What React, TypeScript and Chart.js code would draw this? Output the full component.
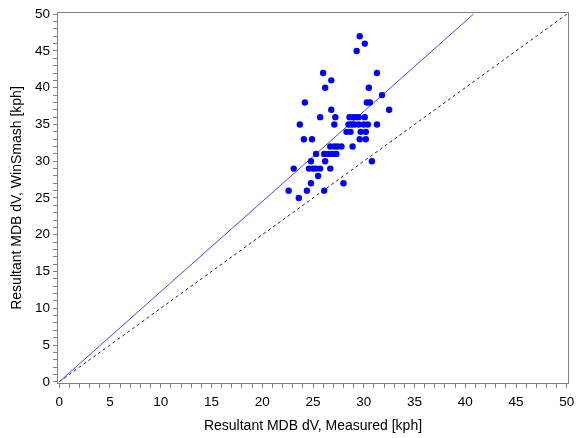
import { useEffect, useRef } from 'react';
import { Chart, registerables } from 'chart.js';

Chart.register(...registerables);

// Measured resultant MDB dV [kph]
const measured = [
  29.6, 30.1, 29.3,
  26.0, 31.3,
  26.8,
  26.2, 30.5,
  31.8,
  24.2, 30.3, 30.6,
  26.8, 32.5,
  25.7, 27.2, 28.6, 28.9, 29.2, 29.5, 30.1,
  23.7, 27.1, 28.5, 28.8, 29.1, 29.5, 30.0, 30.4, 31.3,
  28.3, 28.7, 29.7, 30.2,
  24.1, 24.9, 29.6, 30.2,
  26.7, 27.1, 27.4, 27.8, 28.9,
  25.3, 26.1, 26.5, 26.9, 27.3,
  24.8, 26.2, 30.8,
  23.1, 24.6, 25.0, 25.3, 25.7, 26.7,
  25.5,
  24.8, 28.0,
  22.6, 24.4, 26.1,
  23.6,
];
// WinSmash resultant MDB dV [kph]
const winsmash = [
  47, 46, 45,
  42, 42,
  41,
  40, 40,
  39,
  38, 38, 38,
  37, 37,
  36, 36, 36, 36, 36, 36, 36,
  35, 35, 35, 35, 35, 35, 35, 35, 35,
  34, 34, 34, 34,
  33, 33, 33, 33,
  32, 32, 32, 32, 32,
  31, 31, 31, 31, 31,
  30, 30, 30,
  29, 29, 29, 29, 29, 29,
  28,
  27, 27,
  26, 26, 26,
  25,
];

const fitX = [0, 40.8];
const fitY = [0, 50];
const identityX = [0, 50];
const identityY = [0, 50];

const tickValues = Array.from({ length: 51 }, (_, i) => i);
const labelStep = 5;

const FONT = '"Liberation Sans", Arial, sans-serif';

const framePlugin = {
  id: 'frame',
  afterDatasetsDraw(chart: any) {
    const { ctx, chartArea } = chart;
    ctx.save();
    ctx.strokeStyle = '#808080';
    ctx.lineWidth = 1;
    const l = Math.round(chartArea.left) + 0.5;
    const t = Math.round(chartArea.top) + 0.5;
    const r = Math.round(chartArea.right) - 0.5;
    const b = Math.round(chartArea.bottom) - 0.5;
    ctx.strokeRect(l, t, r - l, b - t);
    ctx.restore();
  },
};

export default function App() {
  const ref = useRef<HTMLCanvasElement>(null);

  useEffect(() => {
    if (!ref.current) return;
    const pts = measured.map((x, i) => ({ x, y: winsmash[i] }));
    const chart = new Chart(ref.current, {
      type: 'scatter',
      data: {
        datasets: [
          {
            data: pts,
            backgroundColor: '#0000ff',
            borderColor: '#0000ff',
            pointRadius: 3.2,
            pointBorderWidth: 0,
            showLine: false,
          },
          {
            data: fitX.map((x, i) => ({ x, y: fitY[i] })),
            showLine: true,
            borderColor: 'rgb(70,70,255)',
            borderWidth: 1,
            pointRadius: 0,
          },
          {
            data: identityX.map((x, i) => ({ x, y: identityY[i] })),
            showLine: true,
            borderColor: '#222222',
            borderWidth: 1,
            borderDash: [3, 3],
            pointRadius: 0,
          },
        ],
      },
      options: {
        responsive: false,
        animation: false,
        layout: { padding: { top: 12, right: 15, left: 0, bottom: 0 } },
        plugins: { legend: { display: false }, tooltip: { enabled: false } },
        scales: {
          x: {
            type: 'linear',
            min: -0.22,
            max: 50.22,
            afterBuildTicks: (s: any) => {
              s.ticks = tickValues.map((v) => ({ value: v }));
            },
            afterFit: (s: any) => {
              s.height = 54;
            },
            ticks: {
              autoSkip: false,
              maxRotation: 0,
              padding: 6,
              color: '#000',
              font: { family: FONT, size: 13.5 },
              callback: (v: any) => (Number(v) % labelStep === 0 ? String(v) : ''),
            },
            grid: { drawOnChartArea: false, drawTicks: true, tickLength: 4, tickColor: '#808080' },
            border: { display: false },
            title: {
              display: true,
              text: 'Resultant MDB dV, Measured [kph]',
              color: '#000',
              font: { family: FONT, size: 14 },
              padding: { top: 0, bottom: 3 },
            },
          },
          y: {
            type: 'linear',
            min: -0.3,
            max: 50.3,
            afterBuildTicks: (s: any) => {
              s.ticks = tickValues.map((v) => ({ value: v }));
            },
            afterFit: (s: any) => {
              s.width = 57;
            },
            ticks: {
              autoSkip: false,
              padding: 3,
              color: '#000',
              font: { family: FONT, size: 13.5 },
              callback: (v: any) => (Number(v) % labelStep === 0 ? String(v) : ''),
            },
            grid: { drawOnChartArea: false, drawTicks: true, tickLength: 4, tickColor: '#808080' },
            border: { display: false },
            title: {
              display: true,
              text: 'Resultant MDB dV, WinSmash [kph]',
              color: '#000',
              font: { family: FONT, size: 14 },
              padding: { top: 8.5, bottom: 0 },
            },
          },
        },
      },
      plugins: [framePlugin],
    });
    return () => chart.destroy();
  }, []);

  return (
    <div style={{ position: 'absolute', left: 0, top: 0, width: 584, height: 438 }}>
      <canvas ref={ref} width={584} height={438} />
    </div>
  );
}
